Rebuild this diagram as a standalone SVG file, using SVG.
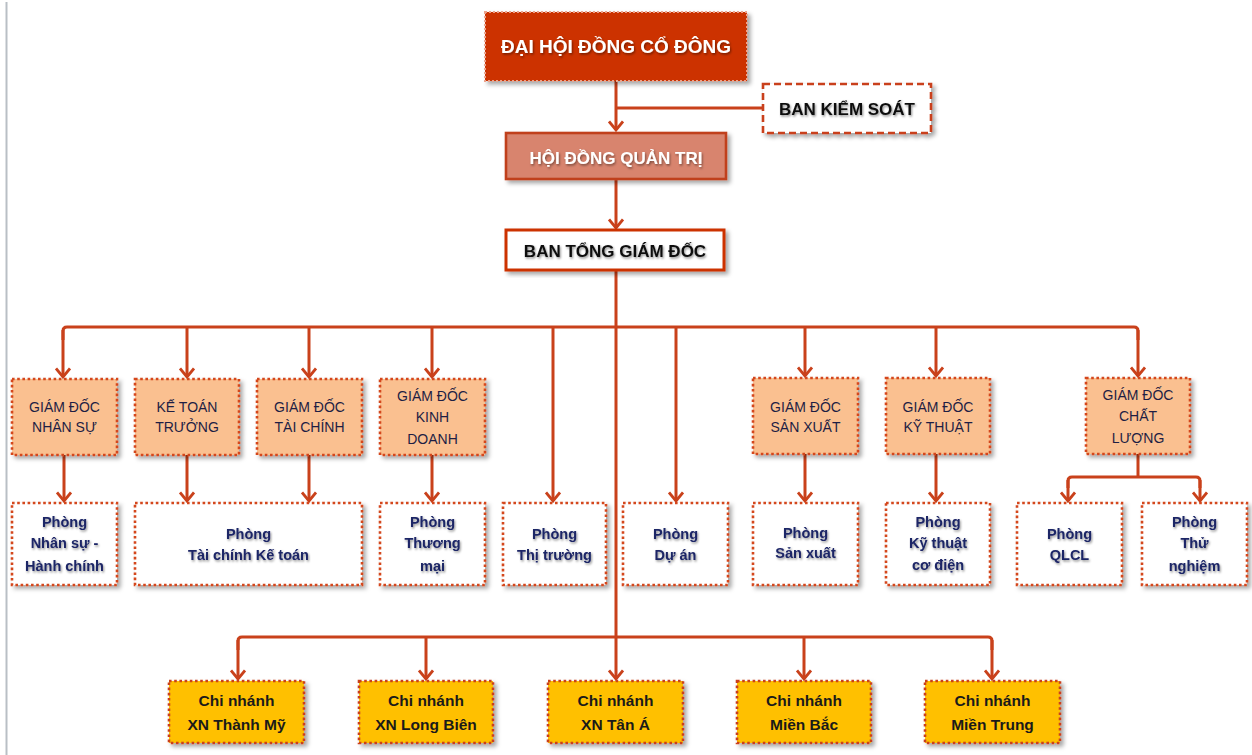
<svg xmlns="http://www.w3.org/2000/svg" width="1252" height="755" viewBox="0 0 1252 755">
  <defs>
    <filter id="sh" x="-10%" y="-10%" width="125%" height="130%">
      <feDropShadow dx="3" dy="3" stdDeviation="2" flood-color="#000" flood-opacity="0.35"/>
    </filter>
    <filter id="tsh" x="-5%" y="-20%" width="115%" height="150%">
      <feDropShadow dx="1" dy="1.5" stdDeviation="1" flood-color="#000" flood-opacity="0.45"/>
    </filter>
    <marker id="arr" viewBox="0 0 12 16" refX="10" refY="8" markerWidth="12" markerHeight="16" markerUnits="userSpaceOnUse" orient="auto">
      <path d="M1.5,1 L10,8 L1.5,15" fill="none" stroke="#C9411B" stroke-width="2.8" stroke-linejoin="miter"/>
    </marker>
    <style>
      .c { fill: none; stroke: #C9411B; stroke-width: 3; }
      .a { marker-end: url(#arr); }
      .gd { fill: #FAC090; stroke: #D4461C; stroke-width: 2.6; stroke-dasharray: 2.6 2.6; filter: url(#sh); }
      .ph { fill: #FFFFFF; stroke: #D4461C; stroke-width: 2.6; stroke-dasharray: 2.6 2.6; filter: url(#sh); }
      .cn { fill: #FFC000; stroke: #C9411B; stroke-width: 2.6; stroke-dasharray: 2.6 2.6; filter: url(#sh); }
      text { font-family: "Liberation Sans", Arial, sans-serif; text-anchor: middle; }
      .t1 { font-size: 14px; fill: #1E1E44; }
      .t2 { font-size: 14.5px; font-weight: bold; fill: #1C2566; filter: url(#tsh); }
      .t3 { font-size: 15.5px; font-weight: bold; fill: #1A1A1A; }
      .tw { font-size: 17px; font-weight: bold; fill: #FFFFFF; filter: url(#tsh); }
      .tb { font-size: 17px; font-weight: bold; fill: #111111; filter: url(#tsh); }
    </style>
  </defs>

  <rect width="1252" height="755" fill="#FFFFFF"/>
  <line x1="6.5" y1="2" x2="6.5" y2="755" stroke="#B9BFC5" stroke-width="2"/>

  <g id="connectors">
    <path class="c a" d="M616,81 V130"/>
    <path class="c" d="M616,108 H763"/>
    <path class="c a" d="M616,179 V228"/>
    <path class="c a" d="M616,270 V679"/>
    <path class="c" d="M63,340 V331 Q63,327 67,327 H1134 Q1138,327 1138,331 V340"/>
    <path class="c a" d="M63,330 V377"/>
    <path class="c a" d="M187,327 V377"/>
    <path class="c a" d="M309,327 V377"/>
    <path class="c a" d="M432,327 V377"/>
    <path class="c a" d="M553,327 V501"/>
    <path class="c a" d="M676,327 V501"/>
    <path class="c a" d="M805,327 V376"/>
    <path class="c a" d="M936,327 V376"/>
    <path class="c a" d="M1138,330 V376"/>
    <path class="c a" d="M64,455 V501"/>
    <path class="c a" d="M187,455 V501"/>
    <path class="c a" d="M309,455 V501"/>
    <path class="c a" d="M432,455 V501"/>
    <path class="c a" d="M805,454 V501"/>
    <path class="c a" d="M936,454 V501"/>
    <path class="c" d="M1138,454 V477"/>
    <path class="c" d="M1068,488 V481 Q1068,477 1072,477 H1196 Q1200,477 1200,481 V488"/>
    <path class="c a" d="M1068,480 V501"/>
    <path class="c a" d="M1200,480 V501"/>
    <path class="c" d="M238,650 V641 Q238,637 242,637 H988 Q992,637 992,641 V650"/>
    <path class="c a" d="M238,640 V679"/>
    <path class="c a" d="M426,637 V679"/>
    <path class="c a" d="M804,637 V679"/>
    <path class="c a" d="M992,640 V679"/>
  </g>

  <g id="dai-hoi-dong-co-dong">
    <rect x="485" y="12" width="262" height="69" fill="#CC3300" stroke="#EBA48E" stroke-width="2" stroke-dasharray="2 2" filter="url(#sh)"/>
    <text class="tw" x="616" y="53" style="font-size:19px">ĐẠI HỘI ĐỒNG CỔ ĐÔNG</text>
  </g>
  <g id="ban-kiem-soat">
    <rect x="763" y="84" width="168" height="49" fill="#FFFFFF" stroke="#C9411B" stroke-width="2.6" stroke-dasharray="7 4" filter="url(#sh)"/>
    <text class="tb" x="847" y="115">BAN KIỂM SOÁT</text>
  </g>
  <g id="hoi-dong-quan-tri">
    <rect x="506" y="133" width="220" height="46" fill="#D8846E" stroke="#C0401C" stroke-width="2.6" filter="url(#sh)"/>
    <text class="tw" x="616" y="164">HỘI ĐỒNG QUẢN TRỊ</text>
  </g>
  <g id="ban-tong-giam-doc">
    <rect x="506" y="230" width="218" height="40" fill="#FFFFFF" stroke="#CC3300" stroke-width="3" filter="url(#sh)"/>
    <text class="tb" x="615" y="257">BAN TỔNG GIÁM ĐỐC</text>
  </g>

  <g id="gd-nhan-su">
    <rect class="gd" x="12" y="379" width="105" height="76"/>
    <text class="t1" x="64.5" y="411.5">GIÁM ĐỐC</text>
    <text class="t1" x="64.5" y="432">NHÂN SỰ</text>
  </g>
  <g id="ke-toan-truong">
    <rect class="gd" x="135" y="379" width="104" height="76"/>
    <text class="t1" x="187" y="411.5">KẾ TOÁN</text>
    <text class="t1" x="187" y="432">TRƯỞNG</text>
  </g>
  <g id="gd-tai-chinh">
    <rect class="gd" x="257" y="379" width="105" height="76"/>
    <text class="t1" x="309.5" y="411.5">GIÁM ĐỐC</text>
    <text class="t1" x="309.5" y="432">TÀI CHÍNH</text>
  </g>
  <g id="gd-kinh-doanh">
    <rect class="gd" x="380" y="379" width="105" height="76"/>
    <text class="t1" x="432.5" y="401">GIÁM ĐỐC</text>
    <text class="t1" x="432.5" y="422">KINH</text>
    <text class="t1" x="432.5" y="444">DOANH</text>
  </g>
  <g id="gd-san-xuat">
    <rect class="gd" x="753" y="378" width="105" height="76"/>
    <text class="t1" x="805.5" y="411.5">GIÁM ĐỐC</text>
    <text class="t1" x="805.5" y="432">SẢN XUẤT</text>
  </g>
  <g id="gd-ky-thuat">
    <rect class="gd" x="886" y="378" width="104" height="76"/>
    <text class="t1" x="938" y="411.5">GIÁM ĐỐC</text>
    <text class="t1" x="938" y="432">KỸ THUẬT</text>
  </g>
  <g id="gd-chat-luong">
    <rect class="gd" x="1086" y="378" width="104" height="76"/>
    <text class="t1" x="1138" y="400">GIÁM ĐỐC</text>
    <text class="t1" x="1138" y="421">CHẤT</text>
    <text class="t1" x="1138" y="443">LƯỢNG</text>
  </g>

  <g id="p-nhan-su">
    <rect class="ph" x="12" y="503" width="105" height="82"/>
    <text class="t2" x="64.5" y="527">Phòng</text>
    <text class="t2" x="64.5" y="548">Nhân sự -</text>
    <text class="t2" x="64.5" y="571">Hành chính</text>
  </g>
  <g id="p-tai-chinh-ke-toan">
    <rect class="ph" x="135" y="503" width="227" height="82"/>
    <text class="t2" x="248.5" y="539">Phòng</text>
    <text class="t2" x="248.5" y="560">Tài chính Kế toán</text>
  </g>
  <g id="p-thuong-mai">
    <rect class="ph" x="380" y="503" width="105" height="82"/>
    <text class="t2" x="432.5" y="527">Phòng</text>
    <text class="t2" x="432.5" y="548">Thương</text>
    <text class="t2" x="432.5" y="571">mại</text>
  </g>
  <g id="p-thi-truong">
    <rect class="ph" x="503" y="503" width="103" height="82"/>
    <text class="t2" x="554.5" y="539">Phòng</text>
    <text class="t2" x="554.5" y="560">Thị trường</text>
  </g>
  <g id="p-du-an">
    <rect class="ph" x="623" y="503" width="105" height="82"/>
    <text class="t2" x="675.5" y="539">Phòng</text>
    <text class="t2" x="675.5" y="560">Dự án</text>
  </g>
  <g id="p-san-xuat">
    <rect class="ph" x="753" y="503" width="105" height="82"/>
    <text class="t2" x="805.5" y="538">Phòng</text>
    <text class="t2" x="805.5" y="558">Sản xuất</text>
  </g>
  <g id="p-ky-thuat-co-dien">
    <rect class="ph" x="886" y="503" width="104" height="82"/>
    <text class="t2" x="938" y="527">Phòng</text>
    <text class="t2" x="938" y="548">Kỹ thuật</text>
    <text class="t2" x="938" y="570">cơ điện</text>
  </g>
  <g id="p-qlcl">
    <rect class="ph" x="1017" y="503" width="105" height="82"/>
    <text class="t2" x="1069.5" y="539">Phòng</text>
    <text class="t2" x="1069.5" y="560">QLCL</text>
  </g>
  <g id="p-thu-nghiem">
    <rect class="ph" x="1142" y="503" width="105" height="82"/>
    <text class="t2" x="1194.5" y="527">Phòng</text>
    <text class="t2" x="1194.5" y="548">Thử</text>
    <text class="t2" x="1194.5" y="571">nghiệm</text>
  </g>

  <g id="cn-thanh-my">
    <rect class="cn" x="169" y="681" width="135" height="62"/>
    <text class="t3" x="236.5" y="706">Chi nhánh</text>
    <text class="t3" x="236.5" y="730">XN Thành Mỹ</text>
  </g>
  <g id="cn-long-bien">
    <rect class="cn" x="359" y="681" width="134" height="62"/>
    <text class="t3" x="426" y="706">Chi nhánh</text>
    <text class="t3" x="426" y="730">XN Long Biên</text>
  </g>
  <g id="cn-tan-a">
    <rect class="cn" x="548" y="681" width="135" height="62"/>
    <text class="t3" x="615.5" y="706">Chi nhánh</text>
    <text class="t3" x="615.5" y="730">XN Tân Á</text>
  </g>
  <g id="cn-mien-bac">
    <rect class="cn" x="737" y="681" width="134" height="62"/>
    <text class="t3" x="804" y="706">Chi nhánh</text>
    <text class="t3" x="804" y="730">Miền Bắc</text>
  </g>
  <g id="cn-mien-trung">
    <rect class="cn" x="925" y="681" width="135" height="62"/>
    <text class="t3" x="992.5" y="706">Chi nhánh</text>
    <text class="t3" x="992.5" y="730">Miền Trung</text>
  </g>
</svg>
